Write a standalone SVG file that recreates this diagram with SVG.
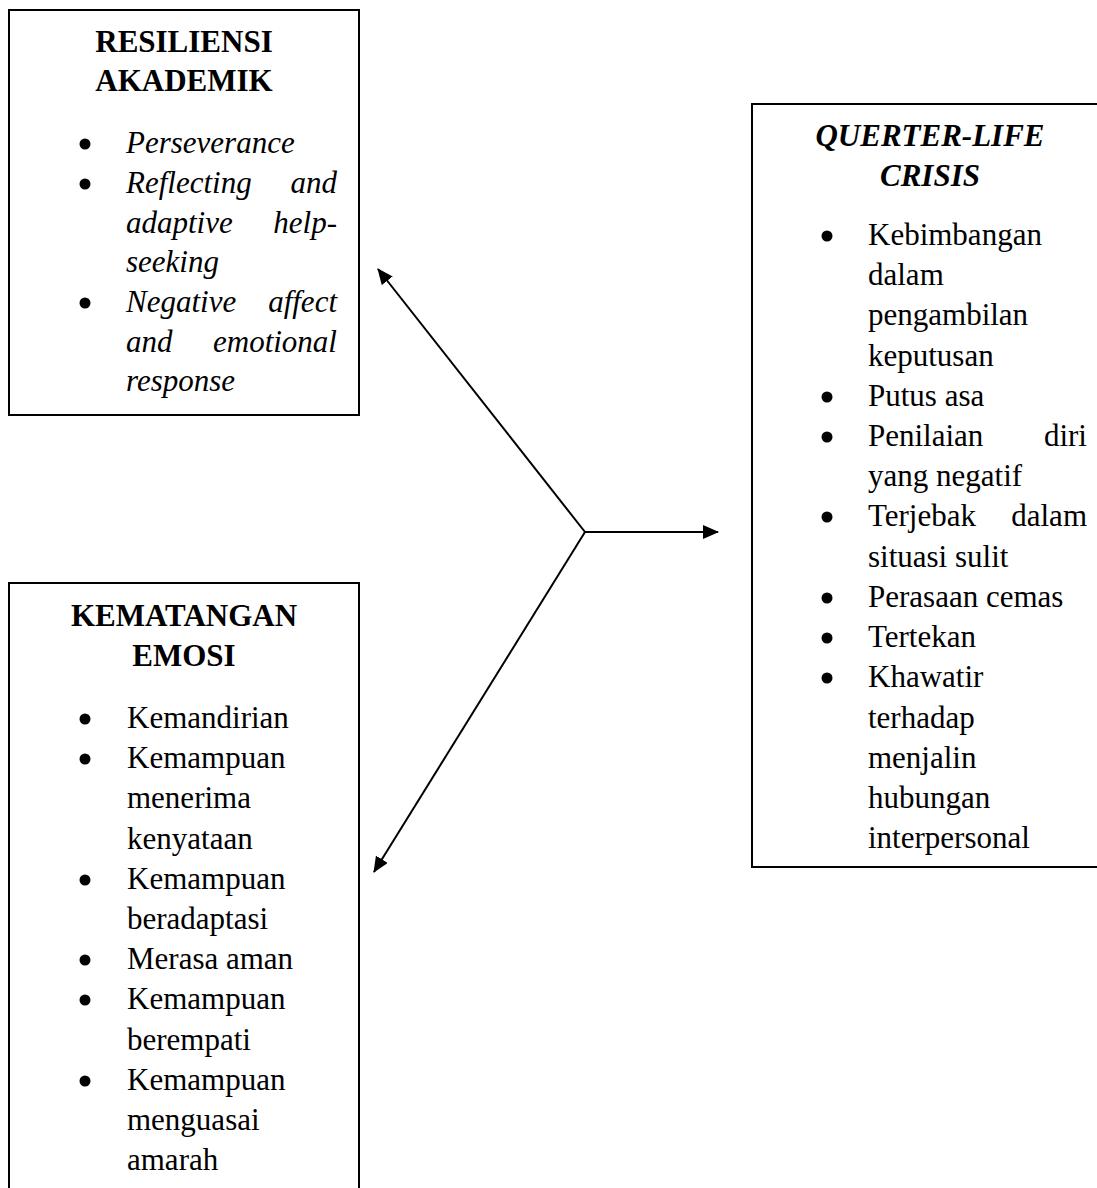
<svg xmlns="http://www.w3.org/2000/svg" width="1097" height="1188" viewBox="0 0 1097 1188">
<defs>
<style>
.box{fill:#fff;stroke:#000;stroke-width:2}
.t{font-family:"Liberation Serif","Times New Roman",serif;font-size:31px;fill:#000}
.h{font-weight:bold;text-anchor:middle}
.i{font-style:italic}
.e{text-anchor:end}
.b{fill:#000}
.c{stroke:#000;stroke-width:2;fill:none}
</style>
<marker id="ah" viewBox="0 0 16 14" refX="15" refY="7" markerWidth="16" markerHeight="14" markerUnits="userSpaceOnUse" orient="auto">
<path d="M0,0 L16,7 L0,14 Z" fill="#000"/>
</marker>
</defs>
<rect width="1097" height="1188" fill="#fff"/>

<g id="resiliensi">
<rect class="box" x="9" y="10" width="350" height="405"/>
<text class="t h" x="184" y="52">RESILIENSI</text>
<text class="t h" x="184" y="91">AKADEMIK</text>
<circle class="b" cx="85" cy="144" r="5.5"/>
<circle class="b" cx="85" cy="184" r="5.5"/>
<circle class="b" cx="85" cy="303" r="5.5"/>
<text class="t i" x="126" y="153">Perseverance</text>
<text class="t i" x="126" y="193">Reflecting</text><text class="t i e" x="337" y="193">and</text>
<text class="t i" x="126" y="233">adaptive</text><text class="t i e" x="337" y="233">help-</text>
<text class="t i" x="126" y="272">seeking</text>
<text class="t i" x="126" y="312">Negative</text><text class="t i e" x="337" y="312">affect</text>
<text class="t i" x="126" y="352">and</text><text class="t i e" x="337" y="352">emotional</text>
<text class="t i" x="126" y="391">response</text>
</g>

<g id="quarter-life">
<rect class="box" x="752" y="104" width="360" height="763"/>
<text class="t h i" x="930" y="146">QUERTER-LIFE</text>
<text class="t h i" x="930" y="186">CRISIS</text>
<circle class="b" cx="827" cy="236" r="5.5"/>
<circle class="b" cx="827" cy="397" r="5.5"/>
<circle class="b" cx="827" cy="437" r="5.5"/>
<circle class="b" cx="827" cy="517" r="5.5"/>
<circle class="b" cx="827" cy="598" r="5.5"/>
<circle class="b" cx="827" cy="638" r="5.5"/>
<circle class="b" cx="827" cy="678" r="5.5"/>
<text class="t" x="868" y="245">Kebimbangan</text>
<text class="t" x="868" y="285">dalam</text>
<text class="t" x="868" y="325">pengambilan</text>
<text class="t" x="868" y="366">keputusan</text>
<text class="t" x="868" y="406">Putus asa</text>
<text class="t" x="868" y="446">Penilaian</text><text class="t e" x="1087" y="446">diri</text>
<text class="t" x="868" y="486">yang negatif</text>
<text class="t" x="868" y="526">Terjebak</text><text class="t e" x="1087" y="526">dalam</text>
<text class="t" x="868" y="567">situasi sulit</text>
<text class="t" x="868" y="607">Perasaan cemas</text>
<text class="t" x="868" y="647">Tertekan</text>
<text class="t" x="868" y="687">Khawatir</text>
<text class="t" x="868" y="728">terhadap</text>
<text class="t" x="868" y="768">menjalin</text>
<text class="t" x="868" y="808">hubungan</text>
<text class="t" x="868" y="848">interpersonal</text>
</g>

<g id="kematangan">
<rect class="box" x="9" y="583" width="350" height="640"/>
<text class="t h" x="184" y="626">KEMATANGAN</text>
<text class="t h" x="184" y="666">EMOSI</text>
<circle class="b" cx="85" cy="719" r="5.5"/>
<circle class="b" cx="85" cy="759" r="5.5"/>
<circle class="b" cx="85" cy="880" r="5.5"/>
<circle class="b" cx="85" cy="960" r="5.5"/>
<circle class="b" cx="85" cy="1000" r="5.5"/>
<circle class="b" cx="85" cy="1081" r="5.5"/>
<text class="t" x="127" y="728">Kemandirian</text>
<text class="t" x="127" y="768">Kemampuan</text>
<text class="t" x="127" y="808">menerima</text>
<text class="t" x="127" y="849">kenyataan</text>
<text class="t" x="127" y="889">Kemampuan</text>
<text class="t" x="127" y="929">beradaptasi</text>
<text class="t" x="127" y="969">Merasa aman</text>
<text class="t" x="127" y="1009">Kemampuan</text>
<text class="t" x="127" y="1050">berempati</text>
<text class="t" x="127" y="1090">Kemampuan</text>
<text class="t" x="127" y="1130">menguasai</text>
<text class="t" x="127" y="1170">amarah</text>
</g>

<g id="connectors">
<line class="c" x1="585" y1="532" x2="378" y2="269" marker-end="url(#ah)"/>
<line class="c" x1="585" y1="532" x2="718" y2="532" marker-end="url(#ah)"/>
<line class="c" x1="585" y1="532" x2="374" y2="872" marker-end="url(#ah)"/>
</g>
</svg>
